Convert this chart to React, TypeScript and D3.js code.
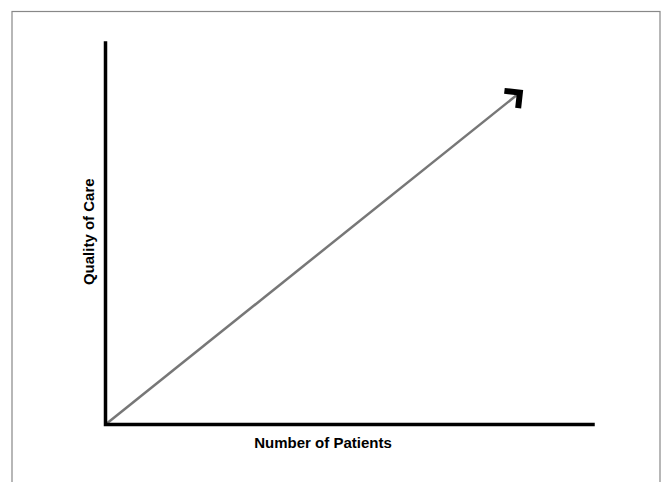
import React from "react";
import * as d3 from "d3";

// conceptual chart: no ticks, only a rising trend arrow
const xDomain = [0, 100];
const yDomain = [0, 100];
const trendX = [0, 85.0];
const trendY = [0, 87.0];
const xLabel = "Number of Patients";
const yLabel = "Quality of Care";

const width = 661;
const height = 482;

const App = () => {
  const x = d3.scaleLinear().domain(xDomain).range([105.5, 593]);
  const y = d3.scaleLinear().domain(yDomain).range([424.5, 43]);

  const pts: [number, number][] = trendX.map((d, i) => [x(d), y(trendY[i])]);
  const line = d3.line()(pts) || "";

  const axisPath = `M${x(xDomain[0])},${y(yDomain[1])}V${y(yDomain[0])}H${x(xDomain[1])}`;

  return (
    <div style={{ position: "absolute", left: 0, top: 0 }}>
      <svg width={width} height={height} style={{ display: "block", background: "#fff" }}>
        <defs>
          <marker
            id="chev"
            markerUnits="userSpaceOnUse"
            viewBox="-20 -20 28 40"
            refX={0}
            refY={0}
            markerWidth={28}
            markerHeight={40}
            orient="auto"
          >
            <path
              d="M-11,-11L0,0L-11,11"
              fill="none"
              stroke="#000"
              strokeWidth={6}
              strokeLinejoin="miter"
            />
          </marker>
        </defs>
        <rect x={12} y={11.5} width={648} height={500} fill="none" stroke="#888" strokeWidth={1.2} />
        <path d={line} fill="none" stroke="#777" strokeWidth={2.5} markerEnd="url(#chev)" />
        <path d={axisPath} fill="none" stroke="#000" strokeWidth={3.5} strokeLinecap="square" />
        <text
          x={323}
          y={448}
          textAnchor="middle"
          fontFamily="'Liberation Sans', Arial, sans-serif"
          fontWeight="bold"
          fontSize={15}
          fill="#000"
        >
          {xLabel}
        </text>
        <text
          transform={`translate(94, ${(y(yDomain[0]) + y(yDomain[1])) / 2 - 2}) rotate(-90)`}
          textAnchor="middle"
          fontFamily="'Liberation Sans', Arial, sans-serif"
          fontWeight="bold"
          fontSize={15}
          fill="#000"
        >
          {yLabel}
        </text>
      </svg>
    </div>
  );
};

export default App;
